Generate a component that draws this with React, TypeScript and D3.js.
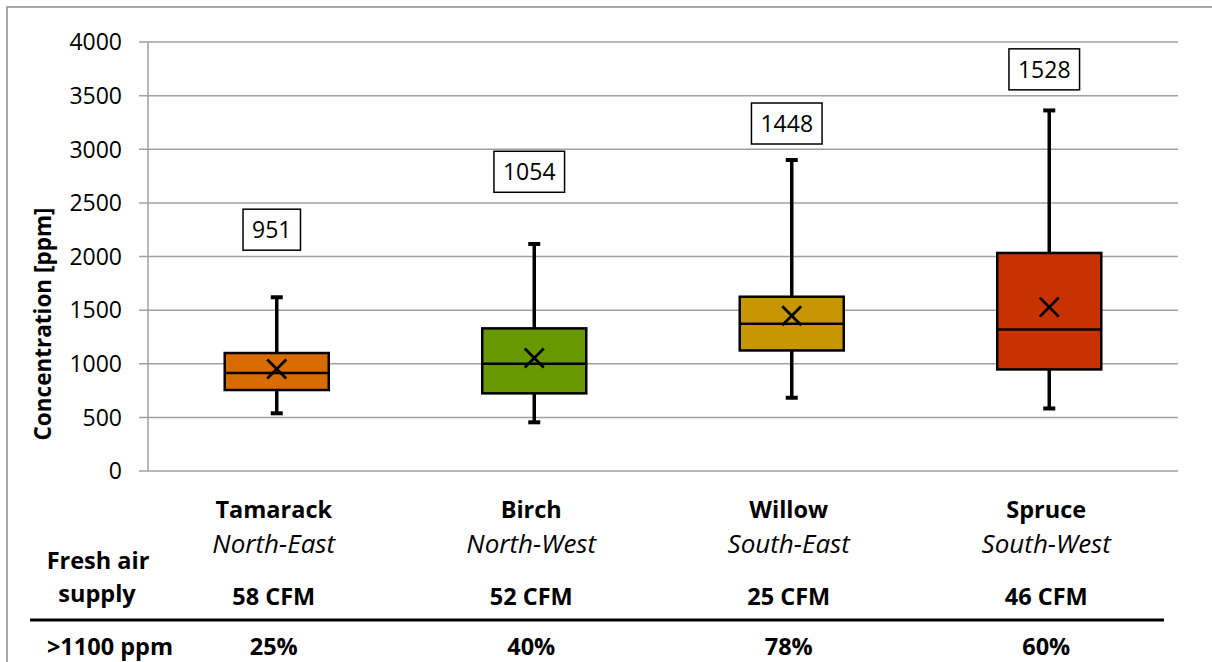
import React, { useEffect, useRef } from "react";
import * as d3 from "d3";

const sites = ["Tamarack", "Birch", "Willow", "Spruce"];
const orientations = ["North-East", "North-West", "South-East", "South-West"];
const airSupply = ["58 CFM", "52 CFM", "25 CFM", "46 CFM"];
const over1100 = ["25%", "40%", "78%", "60%"];

// box plot stats, ppm
const whiskerLow = [538, 454, 683, 583];
const q1 = [755, 724, 1124, 947];
const median = [914, 1000, 1372, 1320];
const q3 = [1100, 1330, 1625, 2033];
const whiskerHigh = [1620, 2117, 2900, 3362];
const means = [951, 1054, 1448, 1528];
// where the mean callouts sit, in ppm
const labelAt = [2250, 2790, 3240, 3745];

const boxColors = ["#d86c00", "#669900", "#c89600", "#c83200"];
const yTicks = [0, 500, 1000, 1500, 2000, 2500, 3000, 3500, 4000];

const FONT = "'Open Sans', 'Noto Sans', sans-serif";

export default function App() {
  const ref = useRef<SVGSVGElement>(null);

  useEffect(() => {
    const svg = d3.select(ref.current);
    svg.selectAll("*").remove();

    const left = 148, right = 1178, top = 42, bottom = 471;

    const x = d3.scaleBand().domain(sites).range([left, right]).padding(0);
    const y = d3.scaleLinear().domain([0, 4000]).range([bottom, top]);
    const cx = (s: string) => (x(s) as number) + x.bandwidth() / 2;
    const boxW = x.bandwidth() * 0.404;

    // outer frame
    svg.append("rect")
      .attr("x", 7).attr("y", 7)
      .attr("width", 1230).attr("height", 700)
      .attr("fill", "none")
      .attr("stroke", "#8c8c8c")
      .attr("stroke-width", 1.5);

    // grid + y axis
    const grid = svg.append("g");
    grid.selectAll("line.grid")
      .data(yTicks)
      .join("line")
      .attr("x1", left - 9).attr("x2", right)
      .attr("y1", d => y(d)).attr("y2", d => y(d))
      .attr("stroke", "#a0a0a0")
      .attr("stroke-width", 1.5);

    grid.append("line")
      .attr("x1", left).attr("x2", left)
      .attr("y1", top).attr("y2", bottom)
      .attr("stroke", "#a0a0a0")
      .attr("stroke-width", 1.5);

    grid.selectAll("text")
      .data(yTicks)
      .join("text")
      .attr("x", 122)
      .attr("y", d => y(d))
      .attr("dy", "0.36em")
      .attr("text-anchor", "end")
      .style("font-family", FONT)
      .style("font-size", "23px")
      .attr("fill", "#000")
      .text(d => d);

    svg.append("text")
      .attr("transform", "translate(51,324) rotate(-90)")
      .attr("text-anchor", "middle")
      .style("font-family", FONT)
      .style("font-size", "22.5px")
      .style("font-weight", "bold")
      .text("Concentration [ppm]");

    // boxes
    const g = svg.append("g");
    sites.forEach((s, i) => {
      const c = cx(s);

      // whiskers
      [[q3[i], whiskerHigh[i]], [q1[i], whiskerLow[i]]].forEach(([a, b]) => {
        g.append("line")
          .attr("x1", c).attr("x2", c)
          .attr("y1", y(a)).attr("y2", y(b))
          .attr("stroke", "#000").attr("stroke-width", 3.5);
        g.append("line")
          .attr("x1", c - 6).attr("x2", c + 6)
          .attr("y1", y(b)).attr("y2", y(b))
          .attr("stroke", "#000").attr("stroke-width", 4);
      });

      g.append("rect")
        .attr("x", c - boxW / 2)
        .attr("y", y(q3[i]))
        .attr("width", boxW)
        .attr("height", y(q1[i]) - y(q3[i]))
        .attr("fill", boxColors[i])
        .attr("stroke", "#000")
        .attr("stroke-width", 2.5);

      g.append("line")
        .attr("x1", c - boxW / 2).attr("x2", c + boxW / 2)
        .attr("y1", y(median[i])).attr("y2", y(median[i]))
        .attr("stroke", "#000").attr("stroke-width", 2.5);

      // mean marker
      const m = y(means[i]), r = 9.5;
      g.append("path")
        .attr("d", `M${c - r},${m - r}L${c + r},${m + r}M${c - r},${m + r}L${c + r},${m - r}`)
        .attr("stroke", "#000").attr("stroke-width", 2.8).attr("fill", "none");

      // mean callout
      const lx = c - 5, ly = y(labelAt[i]);
      const lbl = g.append("g");
      const rect = lbl.append("rect");
      const t = lbl.append("text")
        .attr("x", lx).attr("y", ly)
        .attr("dy", "0.36em")
        .attr("text-anchor", "middle")
        .style("font-family", FONT)
        .style("font-size", "23px")
        .text(means[i]);
      const tw = (t.node() as SVGTextElement).getComputedTextLength();
      rect.attr("x", lx - tw / 2 - 9).attr("y", ly - 20.5)
        .attr("width", tw + 18).attr("height", 41)
        .attr("fill", "#fff").attr("stroke", "#000").attr("stroke-width", 1.5);
    });

    // table under the plot
    const tbl = svg.append("g")
      .style("font-family", FONT)
      .attr("text-anchor", "middle");

    const row = (vals: string[], yy: number, size: number, bold: boolean, italic: boolean) => {
      tbl.selectAll(null)
        .data(vals)
        .join("text")
        .attr("x", (_, i) => cx(sites[i]) - 3)
        .attr("y", yy)
        .style("font-size", size + "px")
        .style("font-weight", bold ? "bold" : "normal")
        .style("font-style", italic ? "italic" : "normal")
        .text(d => d);
    };
    row(sites, 518, 23.5, true, false);
    row(orientations, 553, 26, false, true);
    row(airSupply, 605, 23.5, true, false);
    row(over1100, 655, 23.5, true, false);

    const rowLabel = (txt: string, xx: number, yy: number) =>
      tbl.append("text")
        .attr("x", xx).attr("y", yy)
        .style("font-size", "23.5px")
        .style("font-weight", "bold")
        .text(txt);
    rowLabel("Fresh air", 98, 569);
    rowLabel("supply", 97, 602);
    rowLabel(">1100 ppm", 110, 655);

    tbl.append("line")
      .attr("x1", 30).attr("x2", 1164)
      .attr("y1", 620).attr("y2", 620)
      .attr("stroke", "#000").attr("stroke-width", 3);
  }, []);

  return (
    <svg
      ref={ref}
      width={1212}
      height={662}
      style={{ position: "absolute", left: 0, top: 0, background: "#fff" }}
    />
  );
}
